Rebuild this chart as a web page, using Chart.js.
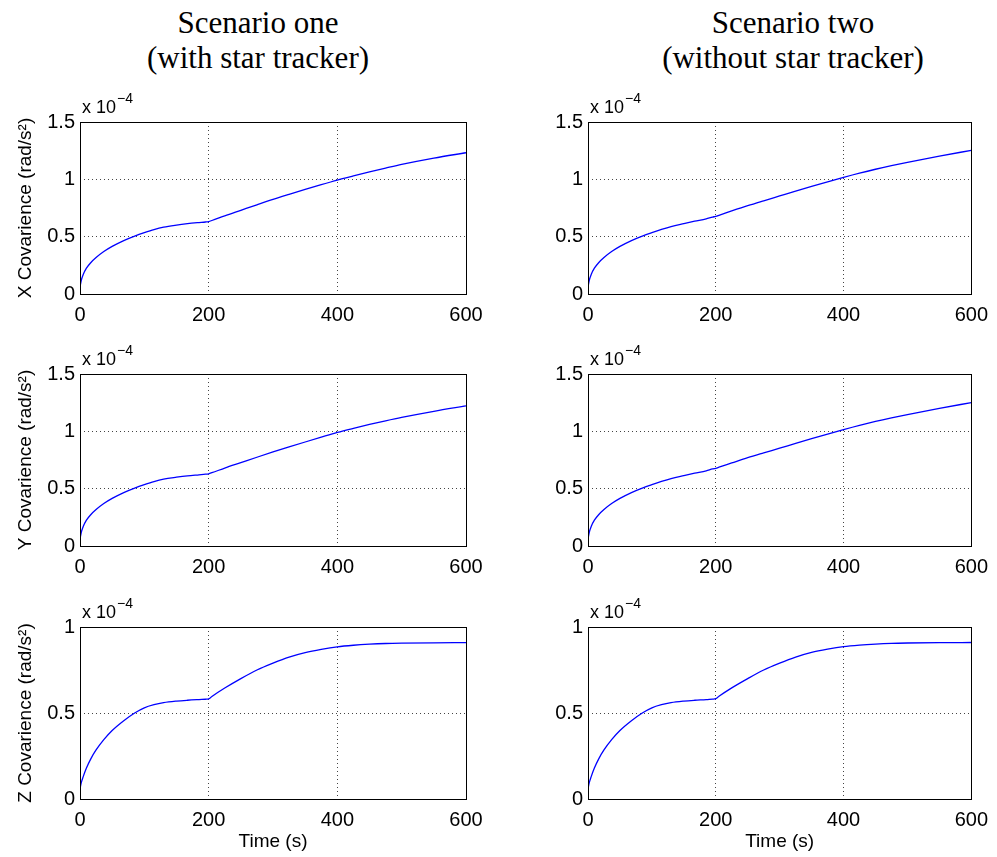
<!DOCTYPE html>
<html>
<head>
<meta charset="utf-8">
<script src="https://cdn.jsdelivr.net/npm/chart.js@4"></script>
<style>
  body { margin: 0; background: #fff; width: 997px; height: 857px; overflow: hidden; position: relative; }
  canvas { position: absolute; }
  .title {
    position: absolute; top: 5px; width: 400px; text-align: center;
    font-family: "Liberation Serif", "Times New Roman", serif; font-size: 31px; line-height: 35px; color: #000;
  }
</style>
</head>
<body>
<div class="title" style="left:58px">Scenario one<br>(with star tracker)</div>
<div class="title" style="left:593px">Scenario two<br>(without star tracker)</div>

<canvas id="xOne" width="497" height="254" style="left:0;top:92px"></canvas>
<canvas id="xTwo" width="500" height="254" style="left:497px;top:92px"></canvas>
<canvas id="yOne" width="497" height="254" style="left:0;top:344px"></canvas>
<canvas id="yTwo" width="500" height="254" style="left:497px;top:344px"></canvas>
<canvas id="zOne" width="497" height="254" style="left:0;top:597px"></canvas>
<canvas id="zTwo" width="500" height="254" style="left:497px;top:597px"></canvas>

<script>
// time (s), shared by every panel
const times = [0, 2, 5, 10, 17, 25, 37, 50, 68, 85, 100, 115, 130, 150, 167, 185, 195, 200, 205,
  225, 250, 275, 300, 325, 350, 375, 400, 425, 450, 475, 500, 550, 600];

// covariance values, in units of 1e-4 rad/s^2
const xCovOne = [0.06, 0.12, 0.17, 0.225, 0.275, 0.318, 0.37, 0.415, 0.466, 0.505, 0.535, 0.562, 0.583, 0.601, 0.613, 0.623, 0.628, 0.632, 0.641,
  0.682, 0.73, 0.778, 0.825, 0.869, 0.912, 0.954, 0.994, 1.03, 1.065, 1.098, 1.13, 1.185, 1.232];
const xCovTwo = [0.06, 0.12, 0.17, 0.225, 0.275, 0.318, 0.37, 0.415, 0.466, 0.505, 0.535, 0.563, 0.588, 0.614, 0.635, 0.656, 0.671, 0.677, 0.686,
  0.724, 0.77, 0.813, 0.855, 0.897, 0.938, 0.978, 1.017, 1.054, 1.088, 1.119, 1.148, 1.202, 1.253];
const yCovOne = [0.06, 0.12, 0.17, 0.225, 0.275, 0.318, 0.37, 0.415, 0.466, 0.505, 0.535, 0.562, 0.583, 0.6, 0.612, 0.621, 0.626, 0.63, 0.639,
  0.68, 0.727, 0.774, 0.82, 0.864, 0.907, 0.949, 0.99, 1.026, 1.06, 1.092, 1.122, 1.175, 1.222];
const yCovTwo = [0.06, 0.12, 0.17, 0.225, 0.275, 0.318, 0.37, 0.415, 0.466, 0.505, 0.535, 0.563, 0.588, 0.614, 0.635, 0.656, 0.672, 0.678, 0.687,
  0.724, 0.77, 0.812, 0.853, 0.895, 0.936, 0.976, 1.015, 1.052, 1.086, 1.117, 1.146, 1.2, 1.251];
const zCovOne = [0.06, 0.095, 0.13, 0.18, 0.235, 0.285, 0.345, 0.398, 0.455, 0.5, 0.53, 0.548, 0.56, 0.569, 0.574, 0.578, 0.58, 0.582, 0.596,
  0.645, 0.7, 0.75, 0.79, 0.825, 0.851, 0.87, 0.885, 0.894, 0.9, 0.904, 0.906, 0.908, 0.909];
const zCovTwo = [0.06, 0.095, 0.13, 0.18, 0.235, 0.285, 0.345, 0.398, 0.455, 0.5, 0.53, 0.548, 0.56, 0.569, 0.574, 0.578, 0.581, 0.583, 0.597,
  0.646, 0.7, 0.75, 0.79, 0.825, 0.852, 0.871, 0.886, 0.895, 0.901, 0.905, 0.907, 0.909, 0.91];

const xTicks = [0, 200, 400, 600];
const sansFont = '"Liberation Sans", Arial, Helvetica, sans-serif';

// matlab style box + "x 10^-4" multiplier above the axes
const boxPlugin = {
  id: "box",
  afterDraw(chart) {
    const { ctx, chartArea: a } = chart;
    ctx.save();
    ctx.strokeStyle = "#000";
    ctx.lineWidth = 1;
    ctx.strokeRect(Math.round(a.left) + 0.5, Math.round(a.top) + 0.5,
      Math.round(a.right - a.left), Math.round(a.bottom - a.top));
    ctx.fillStyle = "#000";
    ctx.textBaseline = "alphabetic";
    ctx.font = "18px " + sansFont;
    const base = "x 10";
    ctx.fillText(base, a.left + 2, a.top - 9);
    const w = ctx.measureText(base).width;
    ctx.font = "14px " + sansFont;
    ctx.fillText("\u22124", a.left + 2 + w + 1, a.top - 19);
    ctx.restore();
  }
};

function makePanel(id, values, yMax, yTitle, xTitle, isLeft) {
  const ctx = document.getElementById(id);
  return new Chart(ctx, {
    type: "line",
    data: {
      datasets: [
        {
          data: times.map((t, i) => ({ x: t, y: values[i] })),
          borderColor: "#0000ff",
          borderWidth: 1.3,
          pointRadius: 0,
          cubicInterpolationMode: "monotone",
          fill: false
        }
      ]
    },
    options: {
      responsive: false,
      animation: false,
      layout: {
        padding: { left: 0, right: isLeft ? 31 : 23, top: 30, bottom: 0 }
      },
      plugins: {
        legend: { display: false },
        tooltip: { enabled: false }
      },
      scales: {
        x: {
          type: "linear",
          min: 0,
          max: 600,
          afterBuildTicks: scale => {
            scale.ticks = xTicks.map(v => ({ value: v }));
          },
          afterFit: scale => {
            scale.height = 52;
          },
          grid: { color: "#444", lineWidth: 1, drawTicks: false },
          border: { display: false, dash: [1, 3] },
          ticks: { color: "#000", padding: 9, maxRotation: 0, font: { family: sansFont, size: 20 } },
          title: {
            display: !!xTitle,
            text: xTitle,
            color: "#000",
            padding: { top: 0, bottom: 0 },
            font: { family: sansFont, size: 19, lineHeight: 1 }
          }
        },
        y: {
          min: 0,
          max: yMax,
          afterFit: scale => {
            scale.width = isLeft ? 80 : 91;
          },
          grid: { color: "#444", lineWidth: 1, drawTicks: false },
          border: { display: false, dash: [1, 3] },
          ticks: {
            stepSize: 0.5,
            color: "#000",
            padding: 5,
            font: { family: sansFont, size: 20 },
            callback: v => String(Number(v.toFixed(2)))
          },
          title: {
            display: !!yTitle,
            text: yTitle,
            color: "#000",
            padding: { top: 16, bottom: 0 },
            font: { family: sansFont, size: 19, lineHeight: 1 }
          }
        }
      }
    },
    plugins: [boxPlugin]
  });
}

makePanel("xOne", xCovOne, 1.5, "X Covarience (rad/s\u00b2)", "", true);
makePanel("xTwo", xCovTwo, 1.5, "", "", false);
makePanel("yOne", yCovOne, 1.5, "Y Covarience (rad/s\u00b2)", "", true);
makePanel("yTwo", yCovTwo, 1.5, "", "", false);
makePanel("zOne", zCovOne, 1, "Z Covarience (rad/s\u00b2)", "Time (s)", true);
makePanel("zTwo", zCovTwo, 1, "", "Time (s)", false);
</script>
</body>
</html>
